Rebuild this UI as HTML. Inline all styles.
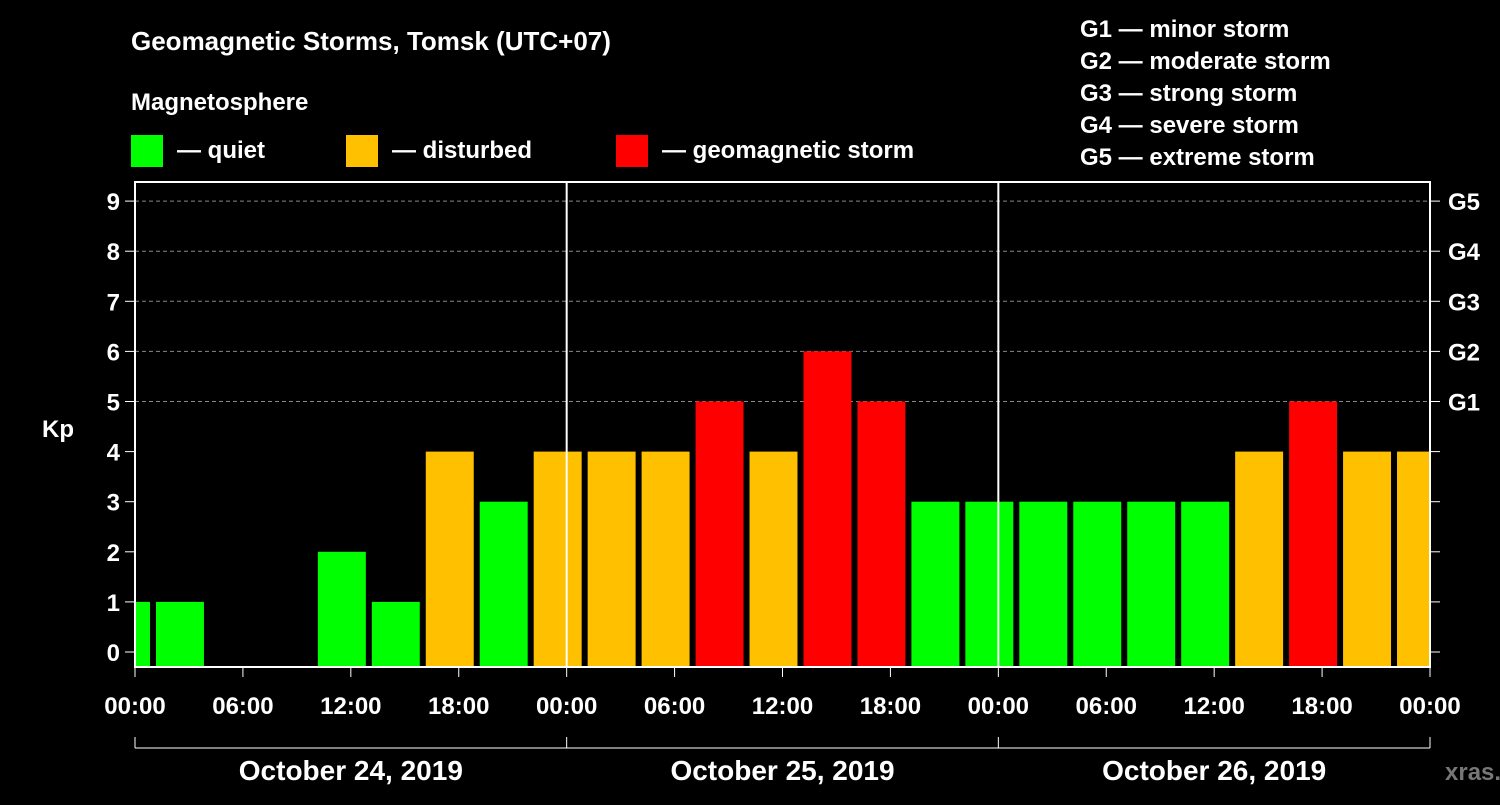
<!DOCTYPE html>
<html><head><meta charset="utf-8"><style>
body{margin:0;background:#000;width:1500px;height:800px;overflow:hidden}
svg text{font-family:"Liberation Sans",sans-serif;font-weight:bold;fill:#fff}
</style></head><body>
<svg id="chart" width="1500" height="800">
<rect width="1500" height="800" fill="#000"/>
<text x="131" y="50" font-size="26">Geomagnetic Storms, Tomsk (UTC+07)</text>
<text x="131" y="110" font-size="24">Magnetosphere</text>
<g><rect x="131" y="135" width="32" height="32" fill="#00ff00"/><text x="177" y="158" font-size="24">— quiet</text></g>
<g><rect x="346" y="135" width="32" height="32" fill="#ffc000"/><text x="392" y="158" font-size="24">— disturbed</text></g>
<g><rect x="616" y="135" width="32" height="32" fill="#ff0000"/><text x="662" y="158" font-size="24">— geomagnetic storm</text></g>
<g font-size="24">
<text x="1080" y="37">G1 — minor storm</text>
<text x="1080" y="69">G2 — moderate storm</text>
<text x="1080" y="101">G3 — strong storm</text>
<text x="1080" y="133">G4 — severe storm</text>
<text x="1080" y="165">G5 — extreme storm</text>
</g>
<text x="42" y="437" font-size="24">Kp</text>
<text x="1445" y="780" font-size="24" fill="#888" style="fill:#777">xras.ru</text>
<g id="grid"></g><g id="bars"></g><g id="axes"></g>
</svg>
<script>
const kpValues=[1,1,0,0,2,1,4,3,4,4,4,5,4,6,5,3,3,3,3,3,3,4,5,4,4];
const yTicks=[0,1,2,3,4,5,6,7,8,9];
const gLabels=["G1","G2","G3","G4","G5"];
const xTickLabels=["00:00","06:00","12:00","18:00","00:00","06:00","12:00","18:00","00:00","06:00","12:00","18:00","00:00"];
const dateLabels=["October 24, 2019","October 25, 2019","October 26, 2019"];
const NS="http://www.w3.org/2000/svg";
const L=135,R=1430,T=182,B=667;
const x=h=>L+h*(R-L)/72;
const y=v=>652-v*50.1;
function mk(tag,attrs,parent,txt){const e=document.createElementNS(NS,tag);for(const k in attrs)e.setAttribute(k,attrs[k]);if(txt!==undefined)e.textContent=txt;parent.appendChild(e);return e;}
const grid=document.getElementById('grid'),bars=document.getElementById('bars'),axes=document.getElementById('axes');
for(let v=5;v<=9;v++){const l=mk('line',{x1:L,x2:R,y1:y(v),y2:y(v),stroke:'#888','stroke-dasharray':'4,3','stroke-width':1},grid);

}
kpValues.forEach((v,i)=>{if(v<=0)return;
const h0=i*3-2;let x0=Math.max(x(h0)+3,L),x1=Math.min(x(h0+3)-3,R);
const c=v>=5?'#ff0000':(v>=4?'#ffc000':'#00ff00');
const r=mk('rect',{x:x0,y:y(v),width:x1-x0,height:B-y(v),fill:c},bars);

});
const fr=mk('rect',{x:L,y:T,width:R-L,height:B-T,fill:'none',stroke:'#fff','stroke-width':2},axes);


[24,48].forEach(h=>{const l=mk('line',{x1:x(h),x2:x(h),y1:T,y2:B,stroke:'#fff','stroke-width':2},axes);

});
yTicks.forEach(v=>{mk('line',{x1:L-10,x2:L,y1:y(v),y2:y(v),stroke:'#fff','stroke-width':1},axes);
mk('line',{x1:R,x2:R+10,y1:y(v),y2:y(v),stroke:'#fff','stroke-width':1},axes);
const t=mk('text',{x:L-15,y:y(v)+9,'text-anchor':'end','font-size':24},axes,String(v));

});
gLabels.forEach((g,i)=>{const t=mk('text',{x:R+18,y:y(i+5)+9,'font-size':24},axes,g);

});
xTickLabels.forEach((s,i)=>{const xx=x(i*6);mk('line',{x1:xx,x2:xx,y1:B,y2:B+10,stroke:'#fff','stroke-width':1},axes);
const t=mk('text',{x:xx,y:714,'text-anchor':'middle','font-size':24},axes,s);

});
mk('line',{x1:L,x2:R,y1:748,y2:748,stroke:'#fff','stroke-width':1},axes);
[0,24,48,72].forEach(h=>mk('line',{x1:x(h),x2:x(h),y1:737,y2:748,stroke:'#fff','stroke-width':1},axes));
dateLabels.forEach((d,i)=>{const t=mk('text',{x:x(i*24+12),y:780,'text-anchor':'middle','font-size':28},axes,d);

});
</script>
</body></html>
